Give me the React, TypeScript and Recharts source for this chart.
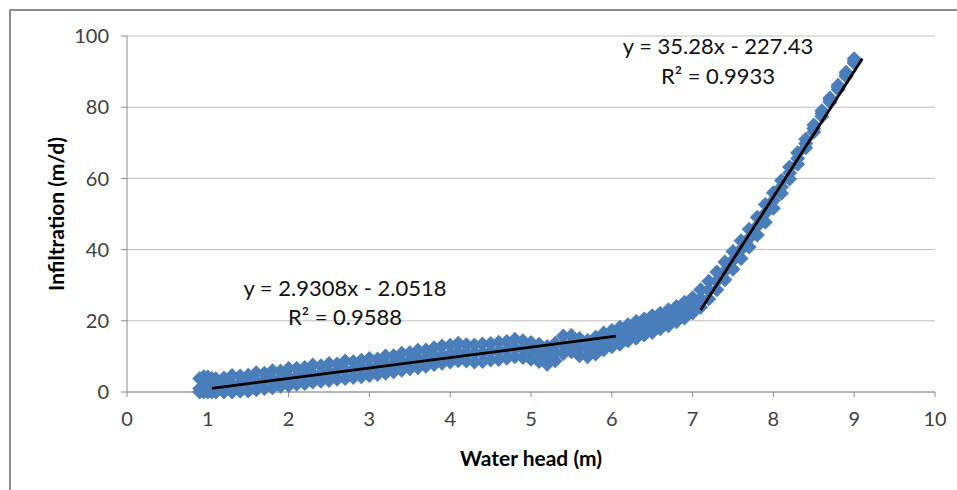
import React from 'react';
import { ScatterChart, Scatter, XAxis, YAxis, CartesianGrid } from 'recharts';

// water head (m) for each reading
const waterHead = [
  0.9, 0.95, 1.0, 1.05, 1.1, 1.2, 1.3, 1.4, 1.5, 1.6, 1.7, 1.8, 1.9, 2.0,
  2.1, 2.2, 2.3, 2.4, 2.5, 2.6, 2.7, 2.8, 2.9, 3.0, 3.1, 3.2, 3.3, 3.4, 3.5,
  3.6, 3.7, 3.8, 3.9, 4.0, 4.1, 4.2, 4.3, 4.4, 4.5, 4.6, 4.7, 4.8, 4.9, 5.0,
  5.1, 5.2, 5.3, 5.4, 5.5, 5.6, 5.7, 5.8, 5.9, 6.0, 6.1, 6.2, 6.3, 6.4, 6.5,
  6.6, 6.7, 6.8, 6.9, 7.0, 7.1, 7.2, 7.3, 7.4, 7.5, 7.6, 7.7, 7.8, 7.9, 8.0,
  8.1, 8.2, 8.3, 8.4, 8.5, 8.6, 8.7, 8.8, 8.9, 9.0,
];

// infiltration (m/d), middle of the band
const infiltrationMid = [
  1.0, 1.2, 1.2, 1.3, 1.5, 1.8, 2.1, 2.3, 2.6, 2.9, 3.2, 3.5, 3.8, 4.1,
  4.4, 4.7, 5.0, 5.2, 5.5, 5.8, 6.1, 6.3, 6.6, 6.9, 7.2, 7.6, 8.0, 8.4, 8.8,
  9.2, 9.6, 10.0, 10.4, 10.7, 11.2, 11.0, 10.8, 11.0, 11.3, 11.5, 11.9, 12.3, 12.0, 11.6,
  11.0, 10.3, 11.2, 13.2, 13.6, 12.6, 12.2, 13.0, 14.2, 15.0, 15.8, 16.6, 17.4, 18.2, 19.0,
  19.9, 20.8, 21.8, 23.0, 24.4, 26.2, 28.6, 31.2, 34.0, 37.0, 40.0, 43.2, 46.6, 50.2, 53.8,
  57.6, 61.5, 65.6, 69.8, 74.0, 78.2, 82.0, 85.6, 89.2, 93.0,
];

// upper edge of the band
const infiltrationUpper = [
  3.8, 4.3, 4.2, 3.8, 3.7, 3.9, 4.6, 4.5, 4.7, 5.4, 5.3, 6.0, 5.9, 6.6,
  6.7, 6.9, 7.6, 7.4, 8.0, 7.9, 8.7, 8.5, 8.9, 9.4, 9.3, 10.1, 10.2, 10.9, 11.0,
  11.7, 11.8, 12.4, 12.9, 13.1, 13.7, 13.3, 13.2, 13.5, 13.6, 14.0, 14.2, 14.8, 14.4, 13.9,
  13.4, 12.8, 13.7, 15.7, 15.9, 15.0, 14.5, 15.4, 16.6, 17.3, 18.2, 18.9, 19.8, 20.5, 21.4,
  22.1, 23.1, 24.0, 25.2, 26.5, 28.7, 31.1, 33.7, 36.5, 39.5, 42.5, 45.7, 49.1, 52.7, 56.0,
  59.4, 63.2, 67.2, 71.0, 75.0, 79.0, 82.6, 86.2, 89.8, 93.6,
];

// lower edge of the band
const infiltrationLower = [
  0.0, 0.0, 0.0, 0.0, 0.0, 0.0, 0.0, 0.2, 0.3, 0.6, 1.0, 1.2, 1.6, 1.8,
  2.2, 2.4, 2.8, 3.0, 3.2, 3.6, 3.8, 4.1, 4.3, 4.6, 4.9, 5.3, 5.7, 6.1, 6.5,
  6.8, 7.2, 7.7, 8.1, 8.4, 8.8, 8.7, 8.4, 8.6, 9.0, 9.1, 9.5, 9.9, 9.7, 9.2,
  8.6, 7.8, 8.8, 10.8, 11.3, 10.2, 9.9, 10.7, 11.9, 12.7, 13.4, 14.4, 15.1, 16.0, 16.7,
  17.8, 18.6, 19.7, 20.8, 22.2, 23.8, 26.1, 28.7, 31.5, 34.5, 37.5, 40.7, 44.1, 47.7, 51.6,
  55.8, 59.8, 64.0, 68.6, 73.0, 77.4, 81.4, 85.0, 88.6, 92.4,
];

const xTicks = [0, 1, 2, 3, 4, 5, 6, 7, 8, 9, 10];
const yTicks = [0, 20, 40, 60, 80, 100];

// linear fits shown on the chart
const fitLow = { slope: 2.9308, intercept: -2.0518, from: 1.05, to: 6.05 };
const fitHigh = { slope: 35.28, intercept: -227.43, from: 7.1, to: 9.1 };

const points = waterHead.flatMap((x, i) => [
  { x, y: infiltrationLower[i] },
  { x, y: infiltrationMid[i] },
  { x, y: infiltrationUpper[i] },
]);

const fitLine = (f: typeof fitLow) => [
  { x: f.from, y: f.slope * f.from + f.intercept },
  { x: f.to, y: f.slope * f.to + f.intercept },
];

const Diamond = (props: any) => {
  const { cx, cy } = props;
  const r = 7.5;
  return <path d={`M${cx},${cy - r}L${cx + r},${cy}L${cx},${cy + r}L${cx - r},${cy}Z`} fill="#4a7ebb" />;
};

const NoDot = () => <g />;

const tickStyle = { fill: '#404040', fontSize: 20, fontFamily: 'Lato' };

export default function App() {
  return (
    <div style={{ position: 'absolute', left: 0, top: 0, width: 957, height: 490, overflow: 'hidden', background: '#fff', fontFamily: 'Lato' }}>
      <div style={{ position: 'absolute', left: 9, top: 9, width: 980, height: 520, border: '2px solid #8c8c8c' }} />
      <ScatterChart width={957} height={490} margin={{ top: 36, right: 22, bottom: 68, left: 67 }}>
        <CartesianGrid vertical={false} stroke="#bfbfbf" />
        <XAxis
          type="number"
          dataKey="x"
          domain={[0, 10]}
          ticks={xTicks}
          tick={tickStyle}
          tickSize={5}
          tickMargin={15}
          height={30}
          axisLine={{ stroke: '#8c8c8c' }}
          tickLine={{ stroke: '#8c8c8c' }}
        />
        <YAxis
          type="number"
          dataKey="y"
          domain={[0, 100]}
          ticks={yTicks}
          tick={tickStyle}
          tickSize={6}
          tickMargin={12}
          width={60}
          axisLine={{ stroke: '#8c8c8c' }}
          tickLine={{ stroke: '#8c8c8c' }}
        />
        <Scatter data={points} shape={<Diamond />} isAnimationActive={false} />
        <Scatter data={fitLine(fitLow)} line={{ stroke: '#000', strokeWidth: 2.8 }} shape={<NoDot />} isAnimationActive={false} />
        <Scatter data={fitLine(fitHigh)} line={{ stroke: '#000', strokeWidth: 2.8 }} shape={<NoDot />} isAnimationActive={false} />
      </ScatterChart>

      <div style={{ position: 'absolute', left: 0, top: 445, width: 1062, textAlign: 'center', fontWeight: 700, fontSize: 21, color: '#000' }}>
        Water head (m)
      </div>
      <div style={{ position: 'absolute', left: 55, top: 214, width: 0, height: 0 }}>
        <div style={{ position: 'absolute', transform: 'translate(-50%, -50%) rotate(-90deg)', whiteSpace: 'nowrap', fontWeight: 700, fontSize: 21, color: '#000' }}>
          Infiltration (m/d)
        </div>
      </div>

      <div style={{ position: 'absolute', left: 225, top: 273, width: 240, textAlign: 'center', fontSize: 22, lineHeight: '29px', color: '#111' }}>
        y = 2.9308x - 2.0518<br />R² = 0.9588
      </div>
      <div style={{ position: 'absolute', left: 598, top: 31, width: 240, textAlign: 'center', fontSize: 22, lineHeight: '30px', color: '#111' }}>
        y = 35.28x - 227.43<br />R² = 0.9933
      </div>
    </div>
  );
}
